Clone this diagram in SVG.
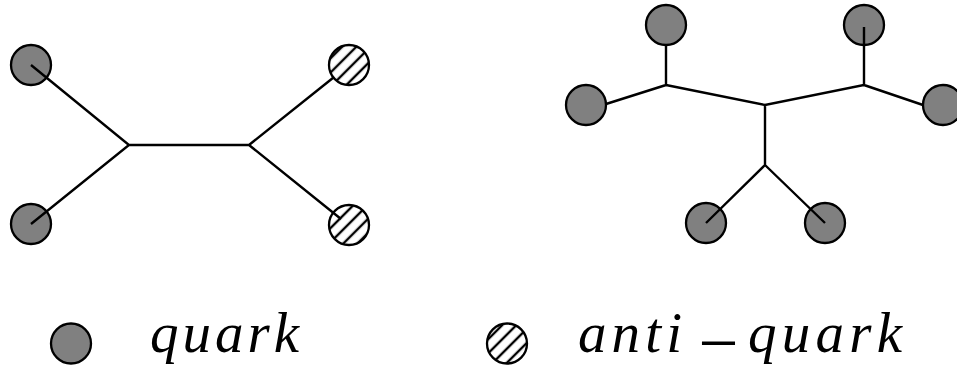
<svg xmlns="http://www.w3.org/2000/svg" width="957" height="368" viewBox="0 0 957 368">
<defs>
<pattern id="hatch" patternUnits="userSpaceOnUse" width="10" height="10" patternTransform="rotate(-45)">
<line x1="0" y1="5" x2="10" y2="5" stroke="#000" stroke-width="2.4"/>
</pattern>
</defs>
<style>
.q{fill:#808080;stroke:#000;stroke-width:2.3}
.aq{fill:url(#hatch);stroke:#000;stroke-width:2.3}
.e{stroke:#000;stroke-width:2.4;fill:none;stroke-linecap:butt}
.t{font-family:"Liberation Serif","DejaVu Serif",serif;font-style:italic;font-size:57px;fill:#000}
.m{font-family:"DejaVu Sans","Liberation Sans",sans-serif;font-size:44px;fill:#000}
</style>
<rect width="957" height="368" fill="#fff"/>
<g id="left-nodes">
<g id="q1"><circle class="q" cx="31" cy="65" r="20"/></g>
<g id="q2"><circle class="q" cx="31" cy="224" r="20"/></g>
<g id="aq1"><circle class="aq" cx="349" cy="65" r="20"/></g>
<g id="aq2"><circle class="aq" cx="349" cy="225" r="20"/></g>
</g>
<g id="right-nodes">
<g id="q3"><circle class="q" cx="666" cy="25" r="20"/></g>
<g id="q4"><circle class="q" cx="586" cy="105" r="20"/></g>
<g id="q5"><circle class="q" cx="864" cy="25" r="20"/></g>
<g id="q6"><circle class="q" cx="943" cy="105" r="20"/></g>
<g id="q7"><circle class="q" cx="706" cy="223" r="20"/></g>
<g id="q8"><circle class="q" cx="825" cy="223" r="20"/></g>
</g>
<g id="connectors">
<path class="e" d="M31 65 L129 145 L31 224 M129 145 L249 145 L333.5 77.5 M249 145 L341 219"/>
<path class="e" d="M666 45 L666 85 L606 104 M666 85 L765 105 L864 85 L864 27 M864 85 L923 105 M765 105 L765 165 L706 223 M765 165 L825 223"/>
</g>
<g id="legend">
<g id="legend-quark">
<circle class="q" cx="71" cy="343.5" r="20"/>
<text class="t" x="150" y="352" textLength="149" lengthAdjust="spacing">quark</text>
</g>
<g id="legend-antiquark">
<circle class="aq" cx="507" cy="343.5" r="20"/>
<text class="t" x="578" y="352" textLength="104" lengthAdjust="spacing">anti</text>
<text class="m" transform="translate(696.4,357) scale(1.2,1)" x="0" y="0">−</text>
<text class="t" x="748" y="352" textLength="154" lengthAdjust="spacing">quark</text>
</g>
</g>
</svg>
